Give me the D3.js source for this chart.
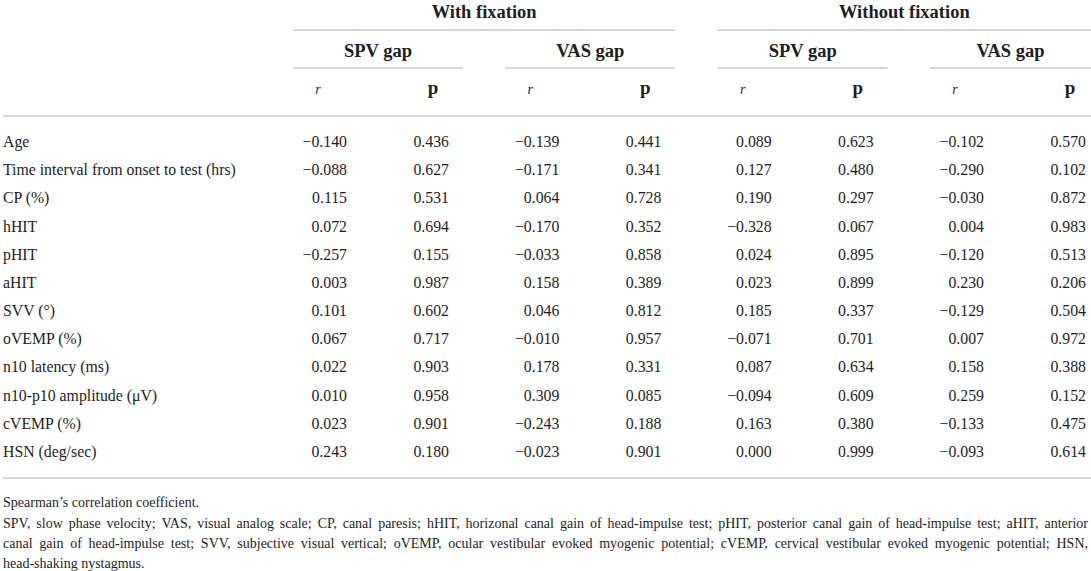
<!DOCTYPE html>
<html><head><meta charset="utf-8">
<script src="https://cdn.jsdelivr.net/npm/d3@7"></script>
<style>html,body{margin:0;padding:0;background:#fff;} svg{display:block;}</style>
</head><body><svg id="chart" width="1091" height="571"></svg>
<script>
// ---------- data ----------
const categories = ["Age","Time interval from onset to test (hrs)","CP (%)","hHIT","pHIT","aHIT","SVV (°)","oVEMP (%)","n10 latency (ms)","n10-p10 amplitude (μV)","cVEMP (%)","HSN (deg/sec)"];
const groups = ["With fixation","Without fixation"];
const subgroups = ["SPV gap","VAS gap"];
const statHeaders = ["r","p"];
const withSpvR    = [-0.140,-0.088, 0.115, 0.072,-0.257, 0.003, 0.101, 0.067, 0.022, 0.010, 0.023, 0.243];
const withSpvP    = [ 0.436, 0.627, 0.531, 0.694, 0.155, 0.987, 0.602, 0.717, 0.903, 0.958, 0.901, 0.180];
const withVasR    = [-0.139,-0.171, 0.064,-0.170,-0.033, 0.158, 0.046,-0.010, 0.178, 0.309,-0.243,-0.023];
const withVasP    = [ 0.441, 0.341, 0.728, 0.352, 0.858, 0.389, 0.812, 0.957, 0.331, 0.085, 0.188, 0.901];
const withoutSpvR = [ 0.089, 0.127, 0.190,-0.328, 0.024, 0.023, 0.185,-0.071, 0.087,-0.094, 0.163, 0.000];
const withoutSpvP = [ 0.623, 0.480, 0.297, 0.067, 0.895, 0.899, 0.337, 0.701, 0.634, 0.609, 0.380, 0.999];
const withoutVasR = [-0.102,-0.290,-0.030, 0.004,-0.120, 0.230,-0.129, 0.007, 0.158, 0.259,-0.133,-0.093];
const withoutVasP = [ 0.570, 0.102, 0.872, 0.983, 0.513, 0.206, 0.504, 0.972, 0.388, 0.152, 0.475, 0.614];
const footNote = "Spearman’s correlation coefficient.";
const abbrevLines = [
  "SPV, slow phase velocity; VAS, visual analog scale; CP, canal paresis; hHIT, horizonal canal gain of head-impulse test; pHIT, posterior canal gain of head-impulse test; aHIT, anterior",
  "canal gain of head-impulse test; SVV, subjective visual vertical; oVEMP, ocular vestibular evoked myogenic potential; cVEMP, cervical vestibular evoked myogenic potential; HSN,",
  "head-shaking nystagmus."
];

// ---------- layout ----------
const FONT = "'Liberation Serif','Times New Roman',serif";
const INK = "#1e1e1e";
const RULE = "#c9c9c9";
const svg = d3.select("#chart").style("font-family", FONT);

const blocks = [];
groups.forEach(g => subgroups.forEach(s => blocks.push(g + "|" + s)));
const blockX = d3.scalePoint().domain(blocks).range([293, 930]);
const blockW = 170;
const rightEdge = 1091;
const blockEnd = b => Math.min(blockX(b) + blockW, rightEdge);

const columns = [
  {block: blocks[0], stat: "r", values: withSpvR},
  {block: blocks[0], stat: "p", values: withSpvP},
  {block: blocks[1], stat: "r", values: withVasR},
  {block: blocks[1], stat: "p", values: withVasP},
  {block: blocks[2], stat: "r", values: withoutSpvR},
  {block: blocks[2], stat: "p", values: withoutSpvP},
  {block: blocks[3], stat: "r", values: withoutVasR},
  {block: blocks[3], stat: "p", values: withoutVasP}
];
const colRight = c => blockX(c.block) + (c.stat === "r" ? 54 : 156);

const y = d3.scalePoint().domain(categories).range([147, 457]);
const fmt = d3.format(".3f");

// group headers
groups.forEach(g => {
  const bs = blocks.filter(b => b.startsWith(g + "|"));
  const x0 = blockX(bs[0]), x1 = blockEnd(bs[bs.length - 1]);
  svg.append("line").attr("x1", x0).attr("x2", x1).attr("y1", 30).attr("y2", 30)
    .attr("stroke", RULE).attr("stroke-width", 1.3);
  svg.append("text").attr("x", (x0 + x1) / 2).attr("y", 18).attr("text-anchor", "middle")
    .attr("font-weight", "bold").attr("font-size", 18.5).attr("fill", INK).text(g);
});

// subgroup headers
svg.selectAll("g.sub").data(blocks).join("g").attr("class", "sub").each(function(b) {
  const g = d3.select(this);
  const x0 = blockX(b), x1 = blockEnd(b);
  g.append("line").attr("x1", x0).attr("x2", x1).attr("y1", 68).attr("y2", 68)
    .attr("stroke", RULE).attr("stroke-width", 1.3);
  g.append("text").attr("x", (x0 + x1) / 2).attr("y", 57).attr("text-anchor", "middle")
    .attr("font-weight", "bold").attr("font-size", 18.5).attr("fill", INK).text(b.split("|")[1]);
  g.append("text").attr("x", x0 + 25).attr("y", 94).attr("text-anchor", "middle")
    .attr("font-style", "italic").attr("font-size", 14).attr("fill", INK).text(statHeaders[0]);
  g.append("text").attr("x", x0 + 140).attr("y", 94).attr("text-anchor", "middle")
    .attr("font-weight", "bold").attr("font-size", 19).attr("fill", INK).text(statHeaders[1]);
});

// header rule & bottom rule
svg.append("line").attr("x1", 3).attr("x2", rightEdge).attr("y1", 116).attr("y2", 116)
  .attr("stroke", RULE).attr("stroke-width", 1.3);
svg.append("line").attr("x1", 3).attr("x2", rightEdge).attr("y1", 478).attr("y2", 478)
  .attr("stroke", RULE).attr("stroke-width", 1.3);

// row labels
svg.selectAll("text.lab").data(categories).join("text").attr("class", "lab")
  .attr("x", 3).attr("y", d => y(d)).attr("font-size", 15.8).attr("fill", INK).text(d => d);

// cells
columns.forEach(c => {
  svg.selectAll(null).data(c.values.map((v, i) => ({v, cat: categories[i]}))).join("text")
    .attr("x", colRight(c)).attr("y", d => y(d.cat)).attr("text-anchor", "end")
    .attr("font-size", 15.8).attr("fill", INK).text(d => fmt(d.v));
});

// footnotes
const FN = 14;
svg.append("text").attr("x", 3).attr("y", 507).attr("font-size", FN).attr("fill", INK).text(footNote);
abbrevLines.forEach((line, li) => {
  const yy = 528 + li * 20;
  const t = svg.append("text").attr("y", yy).attr("font-size", FN).attr("fill", INK);
  const justify = li < abbrevLines.length - 1;
  if (!justify) { t.attr("x", 3).text(line); return; }
  const words = line.split(" ");
  const spans = words.map(w => t.append("tspan").text(w));
  const widths = spans.map(s => s.node().getComputedTextLength());
  const total = d3.sum(widths);
  const gap = (1088 - 3 - total) / (words.length - 1);
  let x = 3;
  spans.forEach((s, i) => { s.attr("x", x); x += widths[i] + gap; });
});
</script></body></html>
